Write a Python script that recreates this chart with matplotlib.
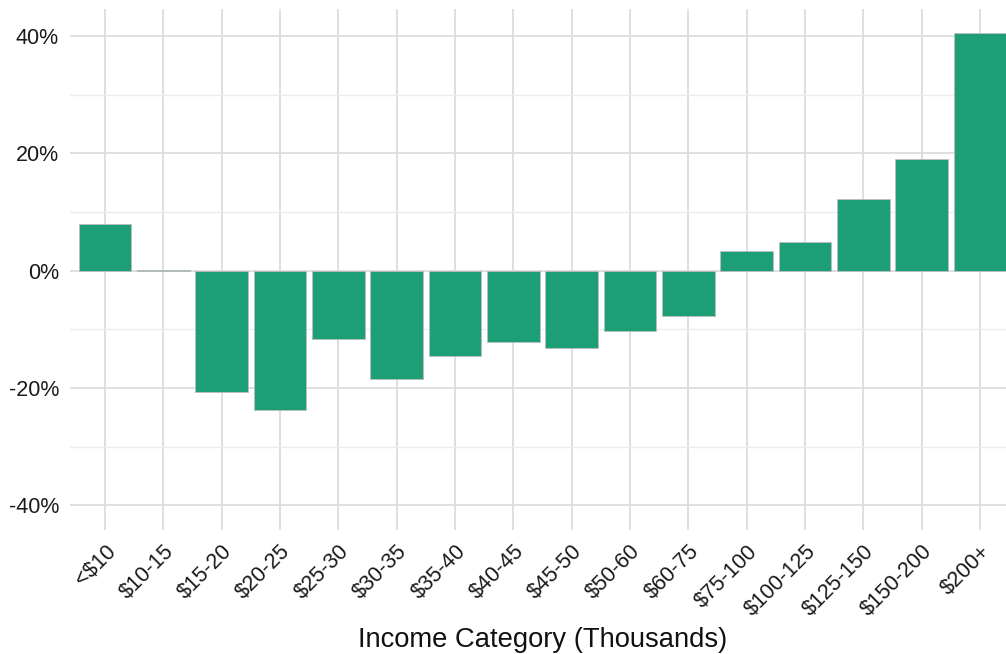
import matplotlib
matplotlib.use("Agg")
import matplotlib.pyplot as plt
from matplotlib.ticker import FixedLocator, FuncFormatter

categories = ["<$10", "$10-15", "$15-20", "$20-25", "$25-30", "$30-35", "$35-40",
              "$40-45", "$45-50", "$50-60", "$60-75", "$75-100", "$100-125",
              "$125-150", "$150-200", "$200+"]
values = [8.0, 0.1, -20.6, -23.8, -11.7, -18.4, -14.6, -12.1, -13.2, -10.3,
          -7.7, 3.3, 4.9, 12.2, 19.1, 40.5]
major_ticks = [-40, -20, 0, 20, 40]
minor_ticks = [-30, -10, 10, 30]

plt.rcParams['font.family'] = ['Liberation Sans', 'DejaVu Sans']

W, H = 1006, 654
fig = plt.figure(figsize=(W / 100, H / 100), dpi=100)
left_px, right_px, top_px, bot_px = 70, 1015, 9, 530
ax = fig.add_axes([left_px / W, 1 - bot_px / H, (right_px - left_px) / W, (bot_px - top_px) / H])

x = list(range(len(categories)))
ax.bar(x, values, width=0.9, color="#1E9E77", edgecolor="#bdbdbd", linewidth=0.6, zorder=3)

ax.set_xlim(-0.6, len(categories) - 0.4)
ax.set_ylim(-44.2, 44.6)

ax.yaxis.set_major_locator(FixedLocator(major_ticks))
ax.yaxis.set_minor_locator(FixedLocator(minor_ticks))
ax.yaxis.set_major_formatter(FuncFormatter(lambda v, p: f"{int(v)}%"))
ax.set_xticks(x)
ax.set_xticklabels(categories, rotation=45, ha="right", rotation_mode="anchor")

ax.grid(True, which="major", color="#DCDCDC", linewidth=1.3, zorder=0)
ax.grid(True, which="minor", axis="y", color="#EBEBEB", linewidth=1.0, zorder=0)
ax.set_axisbelow(True)

for s in ax.spines.values():
    s.set_visible(False)
ax.tick_params(axis="both", which="both", length=0, labelsize=15.5, labelcolor="#1a1a1a")
ax.tick_params(axis="x", pad=8)
ax.tick_params(axis="y", pad=8)

ax.set_xlabel("Income Category (Thousands)", fontsize=19.7, color="#111111", labelpad=5)

fig.savefig("out.png", dpi=100)
